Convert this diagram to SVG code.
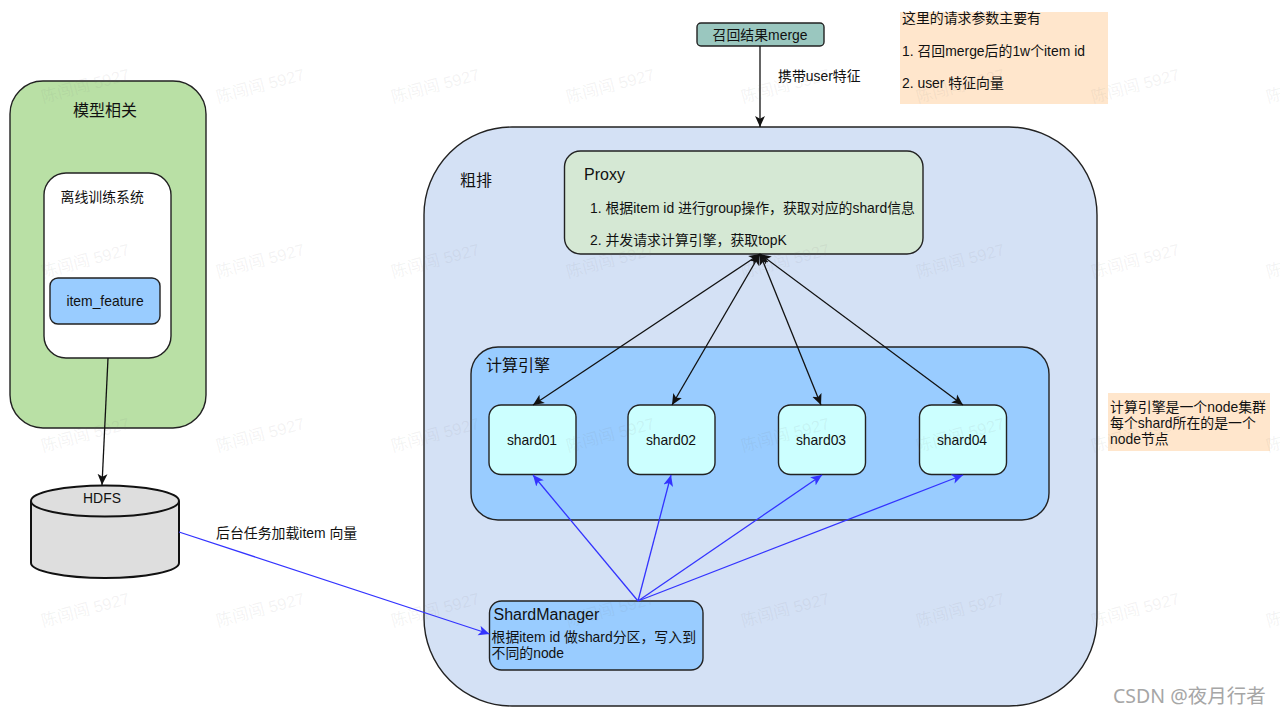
<svg xmlns="http://www.w3.org/2000/svg" width="1280" height="715" viewBox="0 0 1280 715">
<style>
text{font-family:"Liberation Sans","Noto Sans CJK SC",sans-serif;font-size:13.900px;fill:#111}
.m{text-anchor:middle}
.h{font-size:16px}
.n{font-size:13.900px}
.box{stroke:#222;stroke-width:1.400}
.blue{fill:#99ccff}
.sh{fill:#ccffff}
.k{fill:none;stroke:#111;stroke-width:1.300;marker-end:url(#ak)}
.kk{marker-start:url(#ak)}
.b{fill:none;stroke:#3333ff;stroke-width:1.300;marker-end:url(#ab)}
.wm{font-size:16.500px;fill:#777;fill-opacity:.09}
.cs{font-family:"Noto Sans","Noto Sans CJK SC",sans-serif;font-size:19.500px;fill:#a6a6a6}
</style>
<defs>
<marker id="ak" viewBox="0 0 10 10" markerUnits="userSpaceOnUse" markerWidth="11" markerHeight="11" refX="10" refY="5" orient="auto-start-reverse"><path d="M10 5L0 .5 2.500 5 0 9.500z" fill="#111"/></marker>
<marker id="ab" viewBox="0 0 10 10" markerUnits="userSpaceOnUse" markerWidth="11" markerHeight="11" refX="10" refY="5" orient="auto-start-reverse"><path d="M10 5L0 .5 2.500 5 0 9.500z" fill="#3333ff"/></marker>
</defs>
<rect width="1280" height="715" fill="#fff"/>

<g id="node-model">
<rect class="box" x="10" y="81" width="196" height="347" rx="33" fill="#b9e0a5"/>
<text class="h m" x="105" y="116">模型相关</text>
</g>
<g id="node-training">
<rect class="box" x="44" y="173" width="127" height="185" rx="22" fill="#fff"/>
<text x="60.500" y="202">离线训练系统</text>
</g>
<g id="node-item-feature">
<rect class="box blue" x="50" y="278" width="110" height="46" rx="8"/>
<text class="m" x="105" y="306">item_feature</text>
</g>
<g id="node-hdfs">
<path d="M31 501V563C31 571 64 578 105 578S179 571 179 563V501" fill="#dedede" stroke="#111" stroke-width="2"/>
<ellipse cx="105" cy="501" rx="74" ry="15.500" fill="#dedede" stroke="#111" stroke-width="2"/>
<text class="m" x="102" y="503">HDFS</text>
</g>
<g id="node-coarse">
<rect class="box" x="424" y="127" width="673" height="579" rx="88" fill="#d4e1f5"/>
<text class="h" x="460" y="186">粗排</text>
</g>
<g id="node-proxy">
<rect class="box" x="564.500" y="151" width="358.500" height="103" rx="16" fill="#d5e8d4"/>
<text class="h" x="584" y="180">Proxy</text>
<text x="590" y="213">1. 根据item id 进行group操作，获取对应的shard信息</text>
<text x="590" y="245">2. 并发请求计算引擎，获取topK</text>
</g>
<g id="node-engine">
<rect class="box blue" x="471" y="347" width="578" height="173" rx="27"/>
<text class="h" x="486" y="371">计算引擎</text>
</g>
<g id="node-shard01"><rect class="box sh" x="489" y="405" width="87" height="69.500" rx="12"/><text class="m" x="532" y="445">shard01</text></g>
<g id="node-shard02"><rect class="box sh" x="628" y="405" width="87" height="69.500" rx="12"/><text class="m" x="671" y="445">shard02</text></g>
<g id="node-shard03"><rect class="box sh" x="778.500" y="405" width="87" height="69.500" rx="12"/><text class="m" x="821" y="445">shard03</text></g>
<g id="node-shard04"><rect class="box sh" x="919.500" y="405" width="87" height="69.500" rx="12"/><text class="m" x="962" y="445">shard04</text></g>
<g id="node-shardmanager">
<rect class="box blue" x="489.500" y="601" width="213.500" height="69" rx="12"/>
<text class="h" x="493.500" y="620">ShardManager</text>
<text x="491.500" y="642">根据item id 做shard分区，写入到</text>
<text x="491.500" y="658">不同的node</text>
</g>
<g id="node-merge">
<rect class="box" x="697" y="23" width="127" height="23" rx="4" fill="#9ac7bf"/>
<text class="m" x="760" y="40">召回结果merge</text>
</g>
<g id="node-note-request">
<rect x="900" y="12" width="208" height="92" fill="#ffe6cc"/>
<text class="n" x="902" y="23">这里的请求参数主要有</text>
<text x="902" y="55.500">1. 召回merge后的1w个item id</text>
<text x="902" y="88">2. user 特征向量</text>
</g>
<g id="node-note-engine">
<rect x="1108" y="393" width="162" height="58" fill="#ffe6cc"/>
<text class="n" x="1110" y="412">计算引擎是一个node集群</text>
<text class="n" x="1110" y="428">每个shard所在的是一个</text>
<text class="n" x="1110" y="444">node节点</text>
</g>

<g id="connectors">
<path class="k" d="M760 46V127"/>
<path class="k" d="M108 358L102 485"/>
<path class="k kk" d="M760 254L533 405"/>
<path class="k kk" d="M760 254L672 405"/>
<path class="k kk" d="M760 254L821 405"/>
<path class="k kk" d="M760 254L963 405"/>
<path class="b" d="M179 532L489.500 634"/>
<path class="b" d="M638 601L533 475"/>
<path class="b" d="M638 601L671 475"/>
<path class="b" d="M638 601L822 475"/>
<path class="b" d="M638 601L963 475"/>
</g>

<g id="labels">
<text x="778" y="81">携带user特征</text>
<text x="216" y="538">后台任务加载item 向量</text>
</g>

<g id="watermarks">
<text class="wm" transform="translate(43 103) rotate(-15)">陈闯闯 5927</text><text class="wm" transform="translate(218 103) rotate(-15)">陈闯闯 5927</text><text class="wm" transform="translate(393 103) rotate(-15)">陈闯闯 5927</text><text class="wm" transform="translate(568 103) rotate(-15)">陈闯闯 5927</text><text class="wm" transform="translate(743 103) rotate(-15)">陈闯闯 5927</text><text class="wm" transform="translate(918 103) rotate(-15)">陈闯闯 5927</text><text class="wm" transform="translate(1093 103) rotate(-15)">陈闯闯 5927</text><text class="wm" transform="translate(1268 103) rotate(-15)">陈闯闯 5927</text>
<text class="wm" transform="translate(43 278) rotate(-15)">陈闯闯 5927</text><text class="wm" transform="translate(218 278) rotate(-15)">陈闯闯 5927</text><text class="wm" transform="translate(393 278) rotate(-15)">陈闯闯 5927</text><text class="wm" transform="translate(568 278) rotate(-15)">陈闯闯 5927</text><text class="wm" transform="translate(743 278) rotate(-15)">陈闯闯 5927</text><text class="wm" transform="translate(918 278) rotate(-15)">陈闯闯 5927</text><text class="wm" transform="translate(1093 278) rotate(-15)">陈闯闯 5927</text><text class="wm" transform="translate(1268 278) rotate(-15)">陈闯闯 5927</text>
<text class="wm" transform="translate(43 452) rotate(-15)">陈闯闯 5927</text><text class="wm" transform="translate(218 452) rotate(-15)">陈闯闯 5927</text><text class="wm" transform="translate(393 452) rotate(-15)">陈闯闯 5927</text><text class="wm" transform="translate(568 452) rotate(-15)">陈闯闯 5927</text><text class="wm" transform="translate(743 452) rotate(-15)">陈闯闯 5927</text><text class="wm" transform="translate(918 452) rotate(-15)">陈闯闯 5927</text><text class="wm" transform="translate(1093 452) rotate(-15)">陈闯闯 5927</text><text class="wm" transform="translate(1268 452) rotate(-15)">陈闯闯 5927</text>
<text class="wm" transform="translate(43 627) rotate(-15)">陈闯闯 5927</text><text class="wm" transform="translate(218 627) rotate(-15)">陈闯闯 5927</text><text class="wm" transform="translate(393 627) rotate(-15)">陈闯闯 5927</text><text class="wm" transform="translate(568 627) rotate(-15)">陈闯闯 5927</text><text class="wm" transform="translate(743 627) rotate(-15)">陈闯闯 5927</text><text class="wm" transform="translate(918 627) rotate(-15)">陈闯闯 5927</text><text class="wm" transform="translate(1093 627) rotate(-15)">陈闯闯 5927</text><text class="wm" transform="translate(1268 627) rotate(-15)">陈闯闯 5927</text>
</g>
<text class="cs" x="1113" y="703">CSDN @夜月行者</text>
</svg>
